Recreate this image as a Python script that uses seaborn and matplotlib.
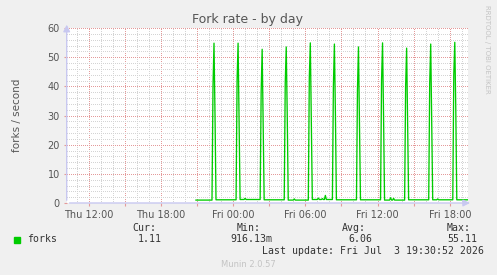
import numpy as np
import pandas as pd
import seaborn as sns
import matplotlib.pyplot as plt
import matplotlib.dates as mdates
from matplotlib.ticker import MultipleLocator, FuncFormatter

# --- data (5 minute samples) ---
view_start = "2026-07-02 10:10:52"
view_end = "2026-07-03 19:30:52"
data_start = "2026-07-02 20:55"
data_end = "2026-07-03 19:30"

# base level of the line before the first spike and between the spikes
seg_level = [1.0, 1.1, 1.2, 1.1, 1.0, 1.2, 1.1, 1.1, 1.0, 1.1, 1.1, 1.1]

# fork bursts every two hours
spike_times = ["2026-07-02 22:25", "2026-07-03 00:25", "2026-07-03 02:25",
               "2026-07-03 04:25", "2026-07-03 06:25", "2026-07-03 08:25",
               "2026-07-03 10:25", "2026-07-03 12:25", "2026-07-03 14:25",
               "2026-07-03 16:25", "2026-07-03 18:25"]
spike_peak = [54.8, 54.8, 52.7, 53.5, 54.9, 54.5, 53.5, 54.9, 53.1, 54.5, 55.1]
spike_rise = [40.0, 42.0, 38.0, 41.0, 43.0, 40.0, 39.0, 42.0, 40.0, 41.0, 44.0]
spike_fall = [30.0, 28.0, 27.0, 30.0, 29.0, 31.0, 28.0, 30.0, 27.0, 29.0, 32.0]

# small bumps on the base line
bump_times = ["2026-07-03 01:00", "2026-07-03 05:05", "2026-07-03 07:05",
              "2026-07-03 07:25", "2026-07-03 07:40", "2026-07-03 13:05",
              "2026-07-03 13:20", "2026-07-03 17:00"]
bump_values = [1.6, 1.4, 1.7, 1.5, 2.6, 1.8, 1.6, 1.4]

cur_val, min_val, avg_val, max_val = "1.11", "916.13m", "6.06", "55.11"

# --- build the series ---
times = pd.date_range(data_start, data_end, freq="5min")
forks = pd.Series(np.nan, index=times)
bounds = [pd.Timestamp(data_start)] + [pd.Timestamp(t) for t in spike_times] + [pd.Timestamp(data_end) + pd.Timedelta("5min")]
for i, lvl in enumerate(seg_level):
    forks[(times >= bounds[i]) & (times < bounds[i + 1])] = lvl
five = pd.Timedelta("5min")
for t, pk, r, f in zip(spike_times, spike_peak, spike_rise, spike_fall):
    t = pd.Timestamp(t)
    forks[t - five] = r
    forks[t] = pk
    forks[t + five] = f
for t, v in zip(bump_times, bump_values):
    forks[pd.Timestamp(t)] = v
df = pd.DataFrame({"time": times, "forks": forks.values})

# --- drawing ---
W, H = 497, 275
bg = "#F0F0F0"
txt = "#555555"
mgrid = "#E49A9A"
grid = "#D4D4D4"
axcol = "#C8C8F0"
green = "#00CC00"

fig = plt.figure(figsize=(W / 100, H / 100), dpi=100, facecolor=bg)
ax = fig.add_axes([66.7 / W, 1 - 203 / H, (468 - 66.7) / W, (203 - 28) / H])
ax.set_facecolor("white")

sns.lineplot(data=df, x="time", y="forks", ax=ax, color=green, lw=0.95)

ax.set_xlim(pd.Timestamp(view_start), pd.Timestamp(view_end))
ax.set_ylim(0, 60)

ax.xaxis.set_major_locator(mdates.HourLocator(byhour=range(0, 24, 3)))
ax.xaxis.set_minor_locator(mdates.HourLocator())


def fmt_time(x, pos):
    d = mdates.num2date(x)
    return d.strftime("%a %H:%M") if d.hour % 6 == 0 else ""


ax.xaxis.set_major_formatter(FuncFormatter(fmt_time))
ax.yaxis.set_major_locator(MultipleLocator(10))
ax.yaxis.set_minor_locator(MultipleLocator(2))

ax.grid(which="minor", color=grid, lw=0.72, ls=(0, (1, 1.4)), antialiased=False)
ax.grid(which="major", color=mgrid, lw=0.72, ls=(0, (1, 1.4)), antialiased=False)
ax.set_axisbelow(True)

ax.tick_params(which="major", length=2, color=mgrid, labelsize=7, labelcolor=txt, pad=3)
ax.tick_params(which="minor", length=0)
for s in ax.spines.values():
    s.set_visible(False)

# axis lines with arrow heads
ax.annotate("", xy=(1.012, 0), xytext=(0, 0), xycoords="axes fraction",
            arrowprops=dict(arrowstyle="-|>,head_length=0.4,head_width=0.2", color=axcol, lw=1))
ax.annotate("", xy=(0, 1.035), xytext=(0, 0), xycoords="axes fraction",
            arrowprops=dict(arrowstyle="-|>,head_length=0.4,head_width=0.2", color=axcol, lw=1))

ax.set_xlabel("")
ax.set_ylabel("")


def px(x, y):
    return x / W, 1 - y / H


fig.text(*px(17, 115.5), "forks / second", rotation=90, ha="center", va="center",
         fontsize=7.5, color=txt)
fig.text(*px(248, 19), "Fork rate - by day", ha="center", va="center", fontsize=9, color=txt)
fig.text(*px(487, 5), "RRDTOOL / TOBI OETIKER", rotation=270, ha="center", va="top",
         fontsize=5, color="#C4C4C4")

mono = dict(family="DejaVu Sans Mono", fontsize=7.1, color="#333333", va="center")

fig.patches.append(plt.Rectangle(px(14, 242.5), 6 / W, 6 / H, transform=fig.transFigure,
                                 color=green, figure=fig))
fig.text(*px(26.7, 239.5), "forks", ha="left", **mono)
fig.text(*px(132, 228), "Cur:", ha="left", **mono)
fig.text(*px(138, 239.5), cur_val, ha="left", **mono)
fig.text(*px(237, 228), "Min:", ha="left", **mono)
fig.text(*px(230.7, 239.5), min_val, ha="left", **mono)
fig.text(*px(342, 228), "Avg:", ha="left", **mono)
fig.text(*px(348, 239.5), avg_val, ha="left", **mono)
fig.text(*px(446.7, 228), "Max:", ha="left", **mono)
fig.text(*px(447, 239.5), max_val, ha="left", **mono)
fig.text(*px(261.7, 251.3), "Last update: Fri Jul  3 19:30:52 2026", ha="left", **mono)
fig.text(*px(248, 264.3), "Munin 2.0.57", ha="center", va="center", fontsize=6, color="#C4C4C4")

fig.savefig("out.png", dpi=100, facecolor=bg)
